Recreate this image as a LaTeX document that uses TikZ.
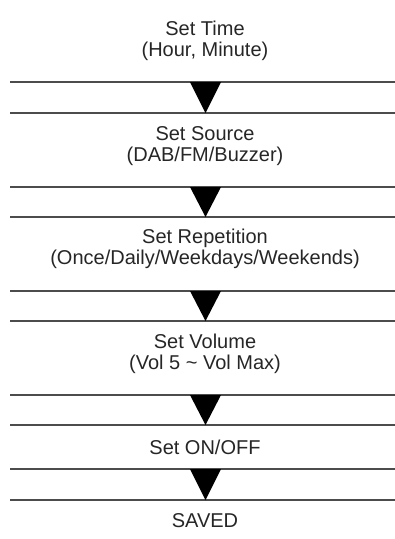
\documentclass[tikz,border=0pt]{standalone}
\usepackage{fontspec}
\setmainfont{Liberation Sans}
\tikzset{
	steptext/.style={align=center,inner sep=0pt,text=black!85,
		font=\fontsize{20}{21.5}\selectfont},
	sepline/.style={draw=black!70,line width=1.4pt},
	arrowhead/.style={fill=black}
}
\begin{document}
\begin{tikzpicture}[x=1pt,y=-1pt]
	\useasboundingbox (0,0) rectangle (395,539);
	% steps
		\node[steptext] (time)   at (205,41)  {Set Time\\(Hour, Minute)};
		\node[steptext] (source) at (205,146) {Set Source\\(DAB/FM/Buzzer)};
		\node[steptext] (repeat) at (205,249) {Set Repetition\\(Once/Daily/Weekdays/Weekends)};
		\node[steptext] (volume) at (205,354) {Set Volume\\(Vol 5 \textasciitilde{} Vol Max)};
		\node[steptext] (onoff)  at (205,447) {Set ON/OFF};
		\node[steptext] (saved)  at (205,521) {SAVED};
	% separator lines and arrows
		\foreach \i/\top/\bot in {1/82/113,2/187/217,3/291/321,4/395/425,5/469/500}{
			\coordinate (up\i) at (205.5,\top);
			\coordinate (down\i) at (205.5,\bot);
			\draw[sepline] ([xshift=-195.5pt]up\i) -- ([xshift=189.5pt]up\i);
			\draw[sepline] ([xshift=-195.5pt]down\i) -- ([xshift=189.5pt]down\i);
			\fill[arrowhead] ([xshift=-15.5pt]up\i) -- ([xshift=15.5pt]up\i) -- (down\i) -- cycle;
			}
\end{tikzpicture}
\end{document}
